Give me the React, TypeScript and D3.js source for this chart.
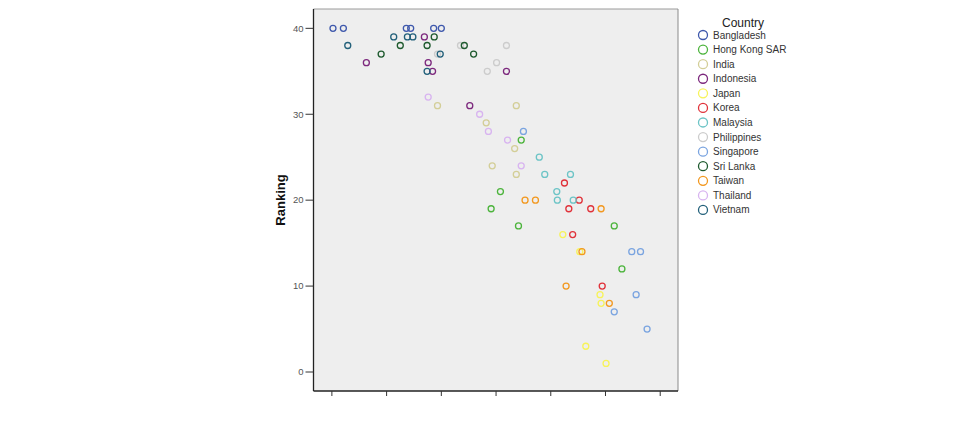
import * as d3 from 'd3';

// x values are in axis-tick units (the x axis carries no labels), y is the ranking
const countries = [
  'Bangladesh', 'Hong Kong SAR', 'India', 'Indonesia', 'Japan', 'Korea', 'Malaysia',
  'Philippines', 'Singapore', 'Sri Lanka', 'Taiwan', 'Thailand', 'Vietnam',
];
const countryColors = [
  '#3e58ac', '#4cb43c', '#d3ce97', '#7c287d', '#f7f35a', '#e0323a', '#6cc4c6',
  '#cccccc', '#7aa4e0', '#1e5a2e', '#f2981f', '#d8b4f0', '#22607a',
];

const bangladesh = [[0.02, 40], [0.21, 40], [1.36, 40], [1.44, 40], [1.86, 40], [2.0, 40]];
const hongKong = [[3.46, 27], [3.08, 21], [2.91, 19], [3.41, 17], [5.16, 17], [5.3, 12]];
const india = [[1.93, 31], [3.37, 31], [2.82, 29], [3.34, 26], [2.93, 24], [3.37, 23]];
const indonesia = [[1.69, 39], [0.63, 36], [1.76, 36], [1.84, 35], [3.19, 35], [2.52, 31]];
const japan = [[4.22, 16], [4.53, 14], [4.9, 9], [4.92, 8], [4.64, 3], [5.01, 1]];
const korea = [[4.25, 22], [4.52, 20], [4.33, 19], [4.73, 19], [4.4, 16], [4.94, 10]];
const malaysia = [[3.79, 25], [3.89, 23], [4.36, 23], [4.11, 21], [4.12, 20], [4.41, 20]];
const philippines = [[2.35, 38], [3.19, 38], [1.93, 37], [3.01, 36], [2.84, 35]];
const singapore = [[3.5, 28], [5.48, 14], [5.64, 14], [5.56, 9], [5.16, 7], [5.76, 5]];
const sriLanka = [[1.87, 39], [1.25, 38], [1.74, 38], [2.42, 38], [0.9, 37], [2.59, 37]];
const taiwan = [[3.53, 20], [3.72, 20], [4.92, 19], [4.57, 14], [4.28, 10], [5.07, 8]];
const thailand = [[1.76, 32], [2.7, 30], [2.86, 28], [3.21, 27], [3.46, 24]];
const vietnam = [[1.13, 39], [1.38, 39], [1.48, 39], [0.29, 38], [1.98, 37], [1.74, 35]];

const countryPoints = [
  bangladesh, hongKong, india, indonesia, japan, korea, malaysia,
  philippines, singapore, sriLanka, taiwan, thailand, vietnam,
];

const xTicks = [0, 1, 2, 3, 4, 5, 6];
const yTicks = [0, 10, 20, 30, 40];

const plot = { left: 313.5, right: 678, top: 9, bottom: 391 };

export default function App() {
  const x = d3.scaleLinear().domain([-0.336, 6.325]).range([plot.left, plot.right]);
  const y = d3.scaleLinear().domain([-2.21, 42.25]).range([plot.bottom, plot.top]);

  const points = countryPoints.flatMap((pts, ci) =>
    pts.map(([vx, vy]) => ({ vx, vy, ci }))
  );

  return (
    <svg
      width={975}
      height={425}
      style={{ position: 'absolute', left: 0, top: 0, background: '#fff' }}
      fontFamily="'Liberation Sans', Arial, sans-serif"
    >
      <rect
        x={plot.left}
        y={plot.top}
        width={plot.right - plot.left}
        height={plot.bottom - plot.top}
        fill="#eeeeee"
      />
      <line x1={plot.left} x2={plot.right} y1={plot.top} y2={plot.top} stroke="#9a9a9a" />
      <line x1={plot.right} x2={plot.right} y1={plot.top} y2={plot.bottom} stroke="#8a8a8a" />

      {/* y axis */}
      <line x1={plot.left} x2={plot.left} y1={plot.top} y2={plot.bottom} stroke="#222" strokeWidth={1.3} />
      {yTicks.map((t) => (
        <g key={t} transform={`translate(0,${y(t)})`}>
          <line x1={plot.left - 8} x2={plot.left} stroke="#333" />
          <text x={plot.left - 10} dy="0.35em" textAnchor="end" fontSize={9.5} fill="#555">
            {t}
          </text>
        </g>
      ))}
      <text
        transform={`translate(285,${(plot.top + plot.bottom) / 2}) rotate(-90)`}
        textAnchor="middle"
        fontSize={13}
        fontWeight="bold"
        fill="#111"
      >
        Ranking
      </text>

      {/* x axis */}
      <line x1={plot.left} x2={plot.right} y1={plot.bottom} y2={plot.bottom} stroke="#222" strokeWidth={1.3} />
      {xTicks.map((t) => (
        <line key={t} x1={x(t)} x2={x(t)} y1={plot.bottom} y2={plot.bottom + 5} stroke="#333" />
      ))}

      {points.map((p, i) => (
        <circle
          key={i}
          cx={x(p.vx)}
          cy={y(p.vy)}
          r={3}
          fill="none"
          stroke={countryColors[p.ci]}
          strokeWidth={1.3}
        />
      ))}

      {/* legend */}
      <text x={743} y={27} textAnchor="middle" fontSize={12} fill="#222">
        Country
      </text>
      {countries.map((c, i) => (
        <g key={c} transform={`translate(703,${35 + i * 14.58})`}>
          <circle r={4.5} fill="none" stroke={countryColors[i]} strokeWidth={1.3} />
          <text x={10} dy="0.35em" fontSize={10} fill="#333">
            {c}
          </text>
        </g>
      ))}
    </svg>
  );
}
